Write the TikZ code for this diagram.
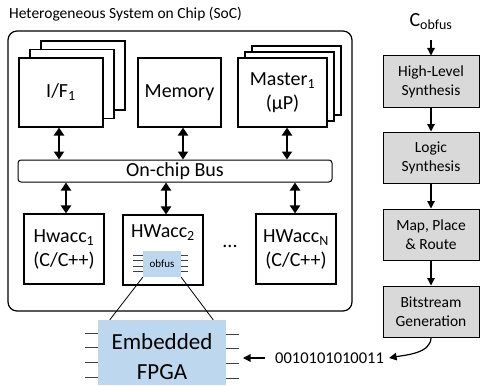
\documentclass[tikz,border=0pt]{standalone}
\usepackage{fontspec}
\setmainfont{Carlito}
\usetikzlibrary{arrows.meta,calc}
\definecolor{fpgablue}{HTML}{BDD7EE}
\definecolor{flowgray}{HTML}{D9D9D9}
\begin{document}
\begin{tikzpicture}[x=1pt,y=-1pt,
  box/.style={draw, line width=1.1pt, fill=white, inner sep=0pt, align=center,
    font=\fontsize{20}{24}\selectfont},
  ifbox/.style={box, minimum width=84pt, minimum height=69pt},
  mbox/.style={box, minimum width=89pt, minimum height=69pt},
  accbox/.style={box, minimum width=80pt, minimum height=70pt},
  flow/.style={draw, line width=1pt, fill=flowgray, inner sep=0pt, align=center,
    minimum width=96pt, minimum height=51pt, font=\fontsize{15.5}{19}\selectfont},
  busarrow/.style={line width=2.8pt, {Triangle[length=8pt,width=10pt]}-{Triangle[length=8pt,width=10pt]}},
  arr/.style={line width=1.2pt, -{Triangle[length=7.5pt,width=7.5pt]}},
  pin/.style={line width=0.9pt, draw=black!75},
  lbl/.style={inner sep=0pt, font=\fontsize{20}{24}\selectfont}]
\useasboundingbox (0,0) rectangle (481,385);
% title
\node[anchor=base west, inner sep=0pt, font=\fontsize{15.5}{18}\selectfont] (title) at (9,19) {Heterogeneous System on Chip (SoC)};
% SoC frame
\node[draw, rounded corners=9pt, line width=1.2pt, minimum width=344pt, minimum height=280pt, inner sep=0pt] (soc) at (180,171) {};
% I/F stack
\node[ifbox] (if3) at (83,75.5) {};
\node[ifbox] (if2) at (72,84) {};
\node[ifbox] (if) at (61,92.5) {I/F\textsubscript{1}};
% Memory
\node[box, minimum width=83pt, minimum height=69pt] (mem) at (179.5,92.5) {Memory};
% Master stack
\node[mbox] (ms3) at (296.5,80.5) {};
\node[mbox] (ms2) at (289.5,86.5) {};
\node[mbox] (ms) at (282.5,92.5) {Master\textsubscript{1}\\(µP)};
% Bus
\node[draw, line width=1pt, rounded corners=3pt, minimum width=314pt, minimum height=22pt, inner sep=0pt,
  font=\fontsize{20}{24}\selectfont] (bus) at (175,171) {On-chip Bus};
% accelerators
\node[accbox] (h1) at (64,249) {Hwacc\textsubscript{1}\\(C/C++)};
\node[accbox] (h2) at (163,250) {};
\node[lbl] (h2lbl) at (163,233) {HWacc\textsubscript{2}};
\node[accbox] (hn) at (296,249) {HWacc\textsubscript{N}\\(C/C++)};
\node[lbl] (dots) at (230,246) {...};
% bus arrows
\draw[busarrow] ([xshift=-2pt]if.south) -- ([xshift=-2pt]if.south |- bus.north);
\draw[busarrow] ([xshift=3.5pt]mem.south) -- ([xshift=3.5pt]mem.south |- bus.north);
\draw[busarrow] ([xshift=4.5pt]ms.south) -- ([xshift=4.5pt]ms.south |- bus.north);
\draw[busarrow] ([xshift=2pt]h1.north) -- ([xshift=2pt]h1.north |- bus.south);
\draw[busarrow] ([xshift=3pt]h2.north) -- ([xshift=3pt]h2.north |- bus.south);
\draw[busarrow] ([xshift=-1pt]hn.north) -- ([xshift=-1pt]hn.north |- bus.south);
% obfus block
\node[fill=fpgablue, minimum width=38pt, minimum height=26pt, inner sep=0pt,
  font=\fontsize{11}{13}\selectfont] (ob) at (162,264) {obfus};
\foreach \y in {255,260.5,266,271.5}{
  \draw[pin] (ob.west |- 0,\y) -- ++(-10,0);
  \draw[pin] (ob.east |- 0,\y) -- ++(7,0);
}
% FPGA
\node[fill=fpgablue, minimum width=128pt, minimum height=65pt, inner sep=0pt] (fpga) at (162,352.5) {};
\node[inner sep=0pt, font=\fontsize{23}{27}\selectfont] (emb) at (162,342) {Embedded};
\node[inner sep=0pt, font=\fontsize{23}{27}\selectfont] (fp) at (162,372) {FPGA};
\draw[line width=0.8pt] (ob.south west) -- ($(fpga.north west)+(12,0)$);
\draw[line width=0.8pt] (ob.south east) -- ($(fpga.north east)+(-13,0)$);
\foreach \y in {333,347.5,362,377}{
  \draw[pin] (fpga.west |- 0,\y) -- ++(-13,0);
}
\foreach \y in {334,348.5,363,378}{
  \draw[pin] (fpga.east |- 0,\y) -- ++(13,0);
}
% bitstream
\node[anchor=west, inner sep=0pt, font=\fontsize{16.5}{19}\selectfont] (bits) at (275,358) {0010101010011};
\coordinate (bitin) at (243,358);
\draw[arr] ([xshift=-10pt]bits.west) -- (bitin);
% flow
\node[inner sep=0pt, font=\fontsize{20}{24}\selectfont] (cob) at (431,22) {C\textsubscript{obfus}};
\coordinate (cobtail) at (431,40);
\node[flow] (hls) at (431,81.5) {High-Level\\Synthesis};
\node[flow] (ls) at (431,157.5) {Logic\\Synthesis};
\node[flow] (mpr) at (431,234.5) {Map, Place\\\& Route};
\node[flow] (bsg) at (431,311.5) {Bitstream\\Generation};
\draw[arr] (cobtail) -- (hls.north);
\draw[arr] (hls.south) -- (ls.north);
\draw[arr] (ls.south) -- (mpr.north);
\draw[arr] (mpr.south) -- (bsg.north);
\draw[arr] (bsg.south) .. controls +(0,16) and +(16,-3) .. ([xshift=5pt]bits.east);
\end{tikzpicture}
\end{document}
